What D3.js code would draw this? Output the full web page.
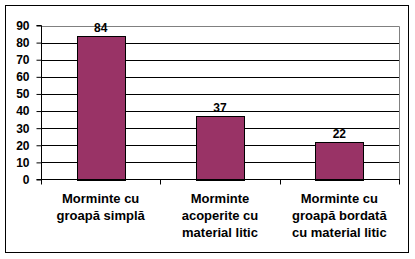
<!DOCTYPE html>
<html>
<head>
<meta charset="utf-8">
<script src="https://cdn.jsdelivr.net/npm/d3@7"></script>
<style>
  body { margin: 0; background: #fff; }
  text { font-family: "Liberation Sans", Arial, sans-serif; }
</style>
</head>
<body>
<div id="chart"></div>
<script>
// data
var categories = [
  ["Morminte cu", "groapă simplă"],
  ["Morminte", "acoperite cu", "material litic"],
  ["Morminte cu", "groapă bordată", "cu material litic"]
];
var values = [84, 37, 22];
var yTicks = [0, 10, 20, 30, 40, 50, 60, 70, 80, 90];

var width = 415,
    height = 259;

var svg = d3.select('#chart')
      .append('svg')
      .attr('width', width)
      .attr('height', height);

// outer frame
svg.append('rect')
  .attr('x', 5.5).attr('y', 5.5)
  .attr('width', 403).attr('height', 247)
  .attr('fill', 'none')
  .attr('stroke', '#000')
  .attr('stroke-width', 1);

var plot = { left: 41, right: 399, top: 25.5, bottom: 179.5 };

var x = d3.scaleBand()
  .domain(d3.range(categories.length))
  .range([plot.left, plot.right])
  .paddingInner(0.6)
  .paddingOuter(0.3);

var y = d3.scaleLinear()
  .domain([0, 90])
  .range([plot.bottom, plot.top]);

// gridlines
svg.selectAll('.grid')
  .data(yTicks.slice(1, -1))
  .enter()
  .append('line')
  .attr('x1', plot.left).attr('x2', plot.right)
  .attr('y1', d => Math.round(y(d)) + 0.5)
  .attr('y2', d => Math.round(y(d)) + 0.5)
  .attr('stroke', '#000');

// gray plot border top + right
svg.append('path')
  .attr('d', 'M' + plot.left + ',' + (Math.round(y(90)) + 0.5) + 'H' + (plot.right + 0.5) + 'V' + plot.bottom)
  .attr('fill', 'none')
  .attr('stroke', '#808080');

// bars
svg.selectAll('.bar')
  .data(values)
  .enter()
  .append('rect')
  .attr('x', (d, i) => Math.round(x(i)) + 0.5)
  .attr('y', d => Math.round(y(d)) + 0.5)
  .attr('width', Math.round(x.bandwidth()))
  .attr('height', d => Math.round(y(0)) - Math.round(y(d)))
  .attr('fill', '#993366')
  .attr('stroke', '#000');

// value labels
svg.selectAll('.val')
  .data(values)
  .enter()
  .append('text')
  .attr('x', (d, i) => x(i) + x.bandwidth() / 2)
  .attr('y', d => y(d) - 4)
  .attr('text-anchor', 'middle')
  .style('font-size', '12px')
  .style('font-weight', 'bold')
  .text(d => d);

// y axis
var yAxis = d3.axisLeft(y).tickValues(yTicks).tickSize(5).tickPadding(7);
var gy = svg.append('g')
  .attr('transform', 'translate(' + (plot.left + 0.5) + ',0)')
  .call(yAxis);
gy.select('.domain').attr('stroke', '#000').attr('d', 'M-5,' + plot.top + 'H0V' + plot.bottom + 'H-5');
gy.selectAll('.tick line').attr('stroke', '#000');
gy.selectAll('text')
  .style('font-family', '"Liberation Sans", Arial, sans-serif')
  .style('font-size', '12px')
  .style('font-weight', 'bold')
  .attr('fill', '#000');

// x axis line + ticks
svg.append('line')
  .attr('x1', plot.left).attr('x2', plot.right + 1)
  .attr('y1', plot.bottom).attr('y2', plot.bottom)
  .attr('stroke', '#000');
var bounds = d3.range(categories.length + 1).map(i => plot.left + i * (plot.right - plot.left) / categories.length);
svg.selectAll('.xtick')
  .data(bounds)
  .enter()
  .append('line')
  .attr('x1', d => Math.round(d) + 0.5).attr('x2', d => Math.round(d) + 0.5)
  .attr('y1', plot.bottom).attr('y2', plot.bottom + 5)
  .attr('stroke', '#000');

// category labels
var cat = svg.selectAll('.cat')
  .data(categories)
  .enter()
  .append('text')
  .attr('text-anchor', 'middle')
  .style('font-size', '13px')
  .style('font-weight', 'bold');
cat.selectAll('tspan')
  .data((d, i) => d.map(t => ({ t: t, i: i })))
  .enter()
  .append('tspan')
  .attr('x', d => x(d.i) + x.bandwidth() / 2)
  .attr('y', (d, j) => 203 + j * 17)
  .text(d => d.t);
</script>
</body>
</html>
